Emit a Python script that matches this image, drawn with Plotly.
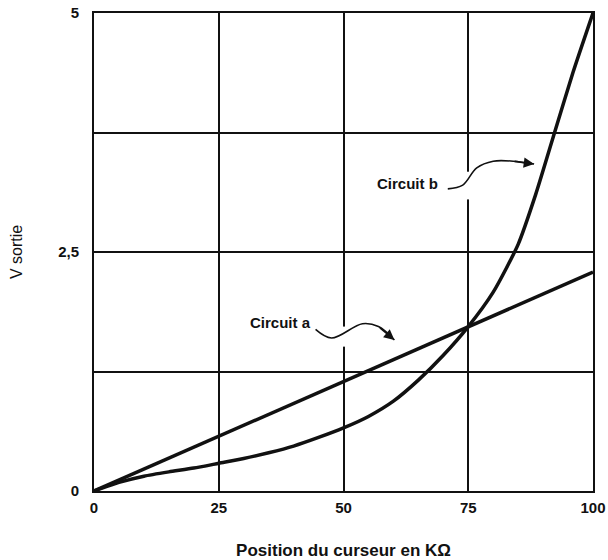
import plotly.graph_objects as go

# Data
pos_a = [0, 100]
v_a = [0, 2.29]

pos_b = [0, 5, 10, 15, 20, 25, 30, 35, 40, 45, 50, 55, 60, 65, 70, 75, 80, 85, 88.5, 92.3, 96, 100]
v_b = [0, 0.09, 0.155, 0.20, 0.24, 0.29, 0.34, 0.40, 0.47, 0.56, 0.66, 0.78, 0.94, 1.16, 1.42,
       1.72, 2.08, 2.58, 3.10, 3.75, 4.38, 5.0]

x_ticks = [0, 25, 50, 75, 100]
y_ticks = [0, 1.25, 2.5, 3.75, 5]
y_ticktext = ["0", "", "2,5", "", "5"]

# Label squiggles (annotation geometry)
sq_a_x = [44.4, 47.6, 53.8, 57.0, 60.2]
sq_a_y = [1.69, 1.60, 1.75, 1.72, 1.58]
sq_b_x = [70.9, 73.9, 76.7, 80.0, 84.0, 88.2]
sq_b_y = [3.16, 3.20, 3.38, 3.45, 3.45, 3.42]

FONT = "Liberation Sans, Arial, sans-serif"

fig = go.Figure()

fig.add_trace(go.Scatter(x=pos_a, y=v_a, mode="lines",
                         line=dict(color="#111111", width=3.5), hoverinfo="skip"))
fig.add_trace(go.Scatter(x=pos_b, y=v_b, mode="lines",
                         line=dict(color="#111111", width=3.5, shape="spline", smoothing=0.6),
                         hoverinfo="skip"))

for sx, sy in [(sq_a_x, sq_a_y), (sq_b_x, sq_b_y)]:
    fig.add_trace(go.Scatter(x=sx, y=sy, mode="lines",
                             line=dict(color="#111111", width=1.6, shape="spline", smoothing=1.0),
                             hoverinfo="skip"))

for sx, sy in [(sq_a_x, sq_a_y), (sq_b_x, sq_b_y)]:
    fig.add_annotation(x=sx[-1], y=sy[-1], ax=sx[-2], ay=sy[-2],
                       xref="x", yref="y", axref="x", ayref="y",
                       showarrow=True, arrowhead=2, arrowsize=1.3, arrowwidth=1.6,
                       arrowcolor="#111111", text="", standoff=0)

fig.add_annotation(x=37.3, y=1.76, text="Circuit a", showarrow=False,
                   font=dict(family=FONT, size=15, color="#111111", weight="bold"))
fig.add_annotation(x=62.9, y=3.22, text="Circuit b", showarrow=False,
                   font=dict(family=FONT, size=15, color="#111111", weight="bold"))

fig.add_shape(type="rect", x0=48.5, x1=52, y0=1.51, y1=1.72, xref="x", yref="y",
              fillcolor="white", line=dict(width=0), layer="between")
fig.add_shape(type="rect", x0=73.5, x1=76.5, y0=3.05, y1=3.34, xref="x", yref="y",
              fillcolor="white", line=dict(width=0), layer="between")

fig.update_layout(
    width=608, height=560,
    margin=dict(l=94, r=15, t=13, b=69, autoexpand=False),
    paper_bgcolor="white", plot_bgcolor="white",
    showlegend=False,
    font=dict(family=FONT, color="#111111"),
)

fig.update_xaxes(range=[0, 100], tickvals=x_ticks, showgrid=True, automargin=False,
                 gridcolor="#111111", gridwidth=1.6,
                 showline=True, linecolor="#111111", linewidth=2, mirror=True,
                 zeroline=False, ticks="", ticklabelstandoff=2, ticklabeloverflow="allow",
                 tickfont=dict(family=FONT, size=15, weight="bold"),
                 title=dict(text="Position du curseur en KΩ", standoff=29,
                            font=dict(family=FONT, size=17, weight="bold")))
fig.update_yaxes(range=[0, 5], tickvals=y_ticks, ticktext=y_ticktext, showgrid=True, automargin=False,
                 gridcolor="#111111", gridwidth=1.6,
                 showline=True, linecolor="#111111", linewidth=2, mirror=True,
                 zeroline=False, ticks="", ticklabelstandoff=10, ticklabeloverflow="allow",
                 tickfont=dict(family=FONT, size=15, weight="bold"),
                 title=dict(text="V sortie", standoff=32,
                            font=dict(family=FONT, size=16)))

# remove the default 8px page margin so the figure fills the window exactly
fig.write_html("out.html", config={"displayModeBar": False},
               post_script="document.body.style.margin='0';")
